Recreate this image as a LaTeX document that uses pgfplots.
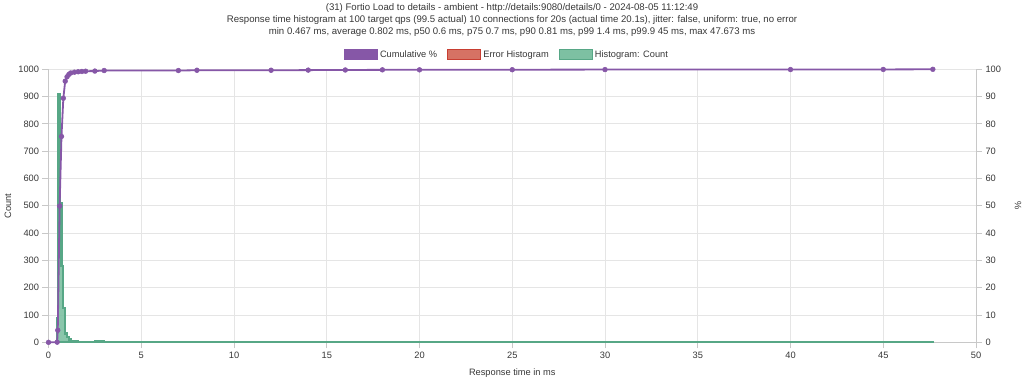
\documentclass[border=0pt]{standalone}
\usepackage{pgfplots}
\pgfplotsset{compat=1.18}
\usepackage{fontspec}
\setmainfont{Liberation Sans}
\definecolor{cumc}{RGB}{134,87,167}
\definecolor{histc}{RGB}{87,167,134}
\definecolor{histf}{RGB}{125,192,162}
\definecolor{errc}{RGB}{200,62,50}
\definecolor{errf}{RGB}{214,114,100}
\definecolor{gridc}{RGB}{229,229,229}
\definecolor{axc}{RGB}{200,200,200}
\definecolor{txt}{RGB}{55,55,55}
\newcommand{\tf}{\fontsize{9.3}{11}\selectfont}
\newcommand{\ttf}{\fontsize{9.65}{11}\selectfont}
\begin{document}
\begin{tikzpicture}
\useasboundingbox (0,0) rectangle (1024bp,382bp);
\node[font=\ttf, text=txt] at (512bp,374bp) {(31) Fortio Load to details - ambient - http://details:9080/details/0 - 2024-08-05 11:12:49};
\node[font=\ttf, text=txt] at (512bp,362bp) {Response time histogram at 100 target qps (99.5 actual) 10 connections for 20s (actual time 20.1s), jitter: false, uniform: true, no error};
\node[font=\ttf, text=txt] at (512bp,350bp) {min 0.467 ms, average 0.802 ms, p50 0.6 ms, p75 0.7 ms, p90 0.81 ms, p99 1.4 ms, p99.9 45 ms, max 47.673 ms};
\pgfplotsset{
  common/.style={
    at={(48.5bp,39.7bp)}, anchor=south west,
    scale only axis, width=927.5bp, height=273bp,
    xmin=0, xmax=50,
    tick align=outside, major tick length=6bp,
    tick style={draw=axc, line width=0.8bp},
    ticklabel style={font=\tf, text=txt},
    label style={font=\tf, text=txt},
    /pgf/number format/assume math mode=true,
    /pgf/number format/1000 sep={},
    scaled ticks=false,
    axis line style={draw=axc, line width=0.9bp, -},
  }
}
\begin{axis}[common,
  ymin=0, ymax=1000,
  xtick={0,5,...,50}, ytick={0,100,...,1000},
  axis x line*=bottom, axis y line*=left,
  grid=major, major grid style={draw=gridc, line width=0.8bp},
  ylabel={Count}, xlabel={Response time in ms},
  ylabel style={at={(axis description cs:-0.0437,0.5)}, anchor=center},
  xlabel style={at={(axis description cs:0.5,-0.1125)}, anchor=center},
]
\addplot[draw=histc, line width=2.2bp, fill=histf, fill opacity=0.9] coordinates {
(0.467,88)(0.5,88)(0.5,910)(0.6,910)(0.6,510)(0.7,510)(0.7,280)(0.8,280)(0.8,125)(0.9,125)(0.9,32)(1.0,32)(1.0,18)(1.1,18)(1.1,10)(1.2,10)(1.2,6)(1.4,6)(1.4,3)(1.6,3)(1.6,2)(1.8,2)(1.8,2)(2.0,2)(2.0,1)(2.5,1)(2.5,4)(3.0,4)(3.0,0)(7,0)(7,2)(8,2)(8,0)(12,0)(12,1)(14,1)(14,1)(16,1)(16,1)(18,1)(18,0)(20,0)(20,1)(25,1)(25,1)(30,1)(30,0)(40,0)(40,1)(45,1)(45,1)(47.673,1)
} \closedcycle;
\end{axis}
\begin{axis}[common,
  ymin=0, ymax=100,
  ytick={0,10,...,100},
  axis x line=none, axis y line*=right,
  ylabel={\%},
  ylabel style={at={(axis description cs:1.0453,0.5)}, anchor=center, rotate=-180},
  clip=false,
  legend columns=3,
  legend style={at={(axis description cs:0.4943,1)}, anchor=center, yshift=14.5bp,
    draw=none, fill=none, font=\tf, text=txt,
    /tikz/every even column/.append style={column sep=8bp},
    inner sep=0pt, nodes={inner sep=2bp}},
  legend cell align=left,
]
\addplot[draw=cumc, line width=1.8bp, mark=*, mark size=2.4bp, mark options={fill=cumc, draw=cumc, line width=0.5bp},
  legend image code/.code={\filldraw[fill=cumc, draw=cumc, line width=1bp] (0bp,-5bp) rectangle (33bp,5bp);}] coordinates {
(0,0)(0.467,0.05)(0.5,4.4)(0.6,49.9)(0.7,75.4)(0.8,89.4)(0.9,95.65)(1.0,97.25)(1.1,98.15)(1.2,98.65)(1.4,98.95)(1.6,99.1)(1.8,99.2)(2.0,99.3)(2.5,99.35)(3.0,99.55)(7,99.55)(8,99.65)(12,99.65)(14,99.7)(16,99.75)(18,99.8)(20,99.8)(25,99.85)(30,99.9)(40,99.9)(45,99.95)(47.673,100)
};
\addlegendentry{Cumulative \%}
\addlegendimage{legend image code/.code={\filldraw[fill=errf, draw=errc, line width=1.2bp] (0bp,-5bp) rectangle (33bp,5bp);}}
\addlegendentry{Error Histogram}
\addlegendimage{legend image code/.code={\filldraw[fill=histf, draw=histc, line width=1.2bp] (0bp,-5bp) rectangle (33bp,5bp);}}
\addlegendentry{Histogram: Count}
\end{axis}
\end{tikzpicture}
\end{document}
